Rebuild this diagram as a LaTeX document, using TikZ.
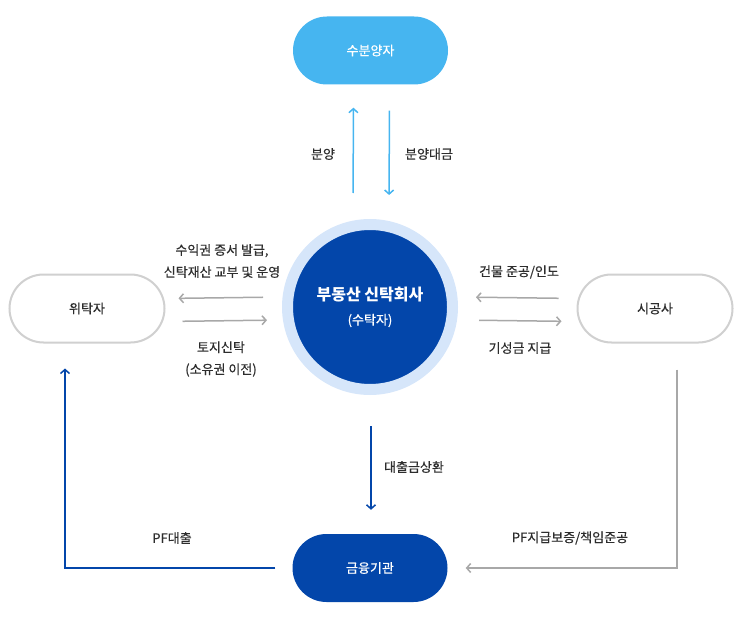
\documentclass[tikz,border=0pt]{standalone}
\usepackage{fontspec}
\setmainfont{Noto Sans CJK KR}[UprightFeatures={FakeBold=0.5}]
\usetikzlibrary{arrows.meta, positioning, calc}
\usepackage{xcolor}
\definecolor{mainblue}{RGB}{3,70,170}
\definecolor{skyblue}{RGB}{70,181,240}
\definecolor{ringblue}{RGB}{214,230,250}
\definecolor{linegray}{RGB}{168,168,168}
\definecolor{pillgray}{RGB}{208,208,208}
\definecolor{txtgray}{RGB}{45,45,45}
\tikzset{
  pill/.style     = {rounded corners=34pt, minimum width=155pt, minimum height=68pt,
                     inner sep=0pt, font=\fontsize{13}{15}\selectfont},
  skypill/.style  = {pill, fill=skyblue, text=white},
  bluepill/.style = {pill, fill=mainblue, text=white},
  graypill/.style = {pill, draw=pillgray, line width=2pt, fill=white, text=txtgray},
  trustee/.style  = {circle, fill=mainblue, draw=ringblue, line width=11pt,
                     minimum size=165pt, inner sep=0pt, text=white, align=center},
  lbl/.style      = {font=\fontsize{13}{22}\selectfont, text=txtgray, align=center},
  garrow/.style   = {-{Straight Barb[length=4pt,width=9pt]}, line width=1.5pt, color=linegray},
  sarrow/.style   = {-{Straight Barb[length=4pt,width=9pt]}, line width=1.5pt, color=skyblue},
  barrow/.style   = {-{Straight Barb[length=4pt,width=9pt]}, line width=1.5pt, color=mainblue},
}

\begin{document}
\begin{tikzpicture}[x=1pt, y=1pt]
\useasboundingbox (0,0) rectangle (743,-617);

% center
\node[trustee] (ct) at (370,-307)
  {{\fontsize{16}{20}\selectfont\bfseries 부동산 신탁회사}\\[11pt]
   {\fontsize{13}{15}\selectfont (수탁자)}};

% parties
\node[skypill]  (sb) at (370.5,-50.5) {수분양자};
\node[graypill] (wt) at (87,-308.5) {위탁자};
\node[graypill] (sg) at (655,-308.5) {시공사};
\node[bluepill] (fi) at (370,-568) {금융기관};

% top
\draw[sarrow, shorten <=26pt, shorten >=23pt] ([xshift=-17pt]ct.north) -- ([xshift=-17pt]sb.south);
\draw[sarrow, shorten <=26pt, shorten >=24pt] ([xshift=19pt]sb.south) -- ([xshift=19pt]ct.north);
\node[lbl] (l1) at (323,-154) {분양};
\node[lbl] (l2) at (429,-154) {분양대금};

% left
\draw[garrow, shorten <=19pt, shorten >=13pt] ([yshift=10pt]ct.west) -- ([yshift=10pt]wt.east);
\draw[garrow, shorten <=17pt, shorten >=15pt] ([yshift=-13pt]wt.east) -- ([yshift=-13pt]ct.west);
\node[lbl] (l3) at (222,-261) {수익권 증서 발급,\\신탁재산 교부 및 운영};
\node[lbl] (l4) at (221,-359) {토지신탁\\(소유권 이전)};

% right
\draw[garrow, shorten <=18pt, shorten >=18pt] ([yshift=10pt]sg.west) -- ([yshift=10pt]ct.east);
\draw[garrow, shorten <=21pt, shorten >=15pt] ([yshift=-13pt]ct.east) -- ([yshift=-13pt]sg.west);
\node[lbl] (l5) at (519,-272) {건물 준공/인도};
\node[lbl] (l6) at (520,-348) {기성금 지급};

% bottom
\draw[barrow, shorten <=31pt, shorten >=24pt] ([xshift=1pt]ct.south) -- ([xshift=1pt]fi.north);
\node[lbl] (l7) at (414,-467) {대출금상환};
\draw[barrow, shorten <=17pt, shorten >=25pt] (fi.west) -| ([xshift=-22pt]wt.south);
\node[lbl] (l8) at (172,-538) {PF대출};
\draw[garrow, shorten <=26pt, shorten >=18pt] ([xshift=22pt]sg.south) |- (fi.east);
\node[lbl] (l9) at (570,-538) {PF지급보증/책임준공};

\end{tikzpicture}
\end{document}
